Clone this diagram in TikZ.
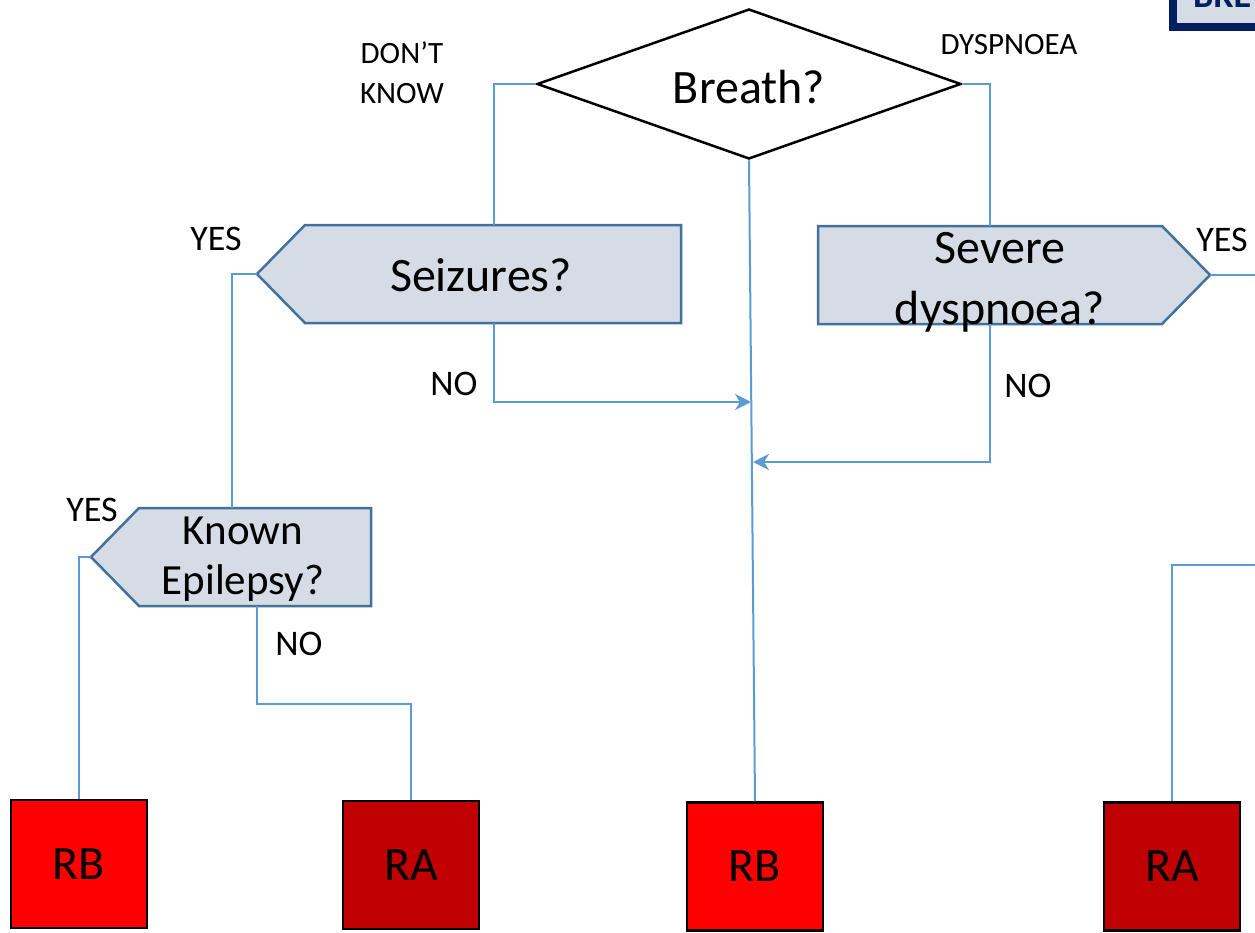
\documentclass[tikz,border=0pt]{standalone}
\usepackage{fontspec}
\setmainfont{Carlito}
\usetikzlibrary{arrows.meta,shapes.geometric}
\definecolor{flow}{HTML}{5B9BD5}
\definecolor{qfill}{HTML}{D6DCE5}
\definecolor{qedge}{HTML}{41719C}
\definecolor{navy}{HTML}{002060}
\definecolor{deepred}{HTML}{C00000}
\tikzset{
  link/.style={draw=flow, line width=2pt},
  linkarrow/.style={link, -{Stealth[length=16pt,width=16pt,inset=5pt]}},
  question/.style={draw=qedge, fill=qfill, line width=2.5pt, line join=miter},
  bigtext/.style={inner sep=0pt, font=\fontsize{48}{61}\selectfont, align=center},
  midtext/.style={inner sep=0pt, font=\fontsize{43}{50}\selectfont, align=center},
  answer/.style={inner sep=0pt, font=\fontsize{36}{40}\selectfont},
  smallanswer/.style={inner sep=0pt, font=\fontsize{31}{40}\selectfont, align=center},
  outcome/.style={draw=black, line width=2.5pt, minimum width=136pt, minimum height=128pt,
    inner sep=0pt, font=\fontsize{48}{50}\selectfont},
}
\begin{document}
\begin{tikzpicture}[x=1pt, y=-1pt]
\useasboundingbox (0,0) rectangle (1255,932);
\clip (0,0) rectangle (1255,932);

% heading box in the corner
\draw[navy, line width=8pt, fill=qfill] (1173,-40) rectangle (1300,27);
\node[anchor=base west, inner sep=0pt, text=navy, font=\bfseries\fontsize{36}{40}\selectfont] (head) at (1193,7) {BRE};

% first question
\node[diamond, draw=black, fill=white, line width=2.5pt, minimum width=424pt, minimum height=150pt,
  inner sep=0pt] (breath) at (749,84) {};
\node[bigtext] (breathtext) at (749,87) {Breath?};

% seizures question (points left)
\draw[question] (257,274) -- (305,225) -- (681,225) -- (681,323) -- (305,323) -- cycle;
\node[bigtext] (seiz) at (481,275) {Seizures?};
\coordinate (seiz-tip) at (257,274);
\coordinate (seiz-top) at (494,225);
\coordinate (seiz-bot) at (494,323);

% severe dyspnoea question (points right)
\draw[question] (818,226) -- (1162,226) -- (1210,275) -- (1162,324) -- (818,324) -- cycle;
\node[bigtext] (sev) at (1000,282) {Severe\\dyspnoea?};
\coordinate (sev-tip) at (1210,275);
\coordinate (sev-top) at (990,226);
\coordinate (sev-bot) at (990,324);
\coordinate (sev-out) at (1262,275);

% known epilepsy question (points left)
\draw[question] (91,557) -- (139,508) -- (371,508) -- (371,606) -- (139,606) -- cycle;
\node[midtext] (epi) at (243,559) {Known\\Epilepsy?};
\coordinate (epi-tip) at (91,557);
\coordinate (epi-top) at (232,508);
\coordinate (epi-bot) at (257,606);
\coordinate (epi-bend) at (257,704);

% outcomes
\node[outcome, fill=red] (rb1) at (79,864) {RB};
\node[outcome, fill=deepred] (ra1) at (411,865) {RA};
\node[outcome, fill=red] (rb2) at (755,866.5) {RB};
\node[outcome, fill=deepred] (ra2) at (1172,866.5) {RA};
\coordinate (ra2-out) at (1262,565);

% joins on the central line
\coordinate (j1) at (751,402);
\coordinate (j2) at (753,462);

% connectors
\draw[link] (breath.west) -| (seiz-top);
\draw[link] (breath.east) -| (sev-top);
\draw[link] (breath.south) -- (rb2.north);
\draw[linkarrow] (seiz-bot) |- (j1);
\draw[linkarrow] (sev-bot) |- (j2);
\draw[link] (seiz-tip) -| (epi-top);
\draw[link] (sev-tip) -- (sev-out);
\draw[link] (epi-tip) -| (rb1.north);
\draw[link] (epi-bot) -- (epi-bend) -| (ra1.north);
\draw[link] (ra2.north) |- (ra2-out);

% answer labels
\node[smallanswer] (dk) at (402,73) {DON'T\\KNOW};
\node[smallanswer] (dysp) at (1009,45) {DYSPNOEA};
\node[answer] (yes1) at (216,239) {YES};
\node[answer] (yes2) at (1222,240) {YES};
\node[answer] (no1) at (454,384) {NO};
\node[answer] (no2) at (1028,386) {NO};
\node[answer] (yes3) at (92,510) {YES};
\node[answer] (no3) at (299,644) {NO};
\end{tikzpicture}
\end{document}
